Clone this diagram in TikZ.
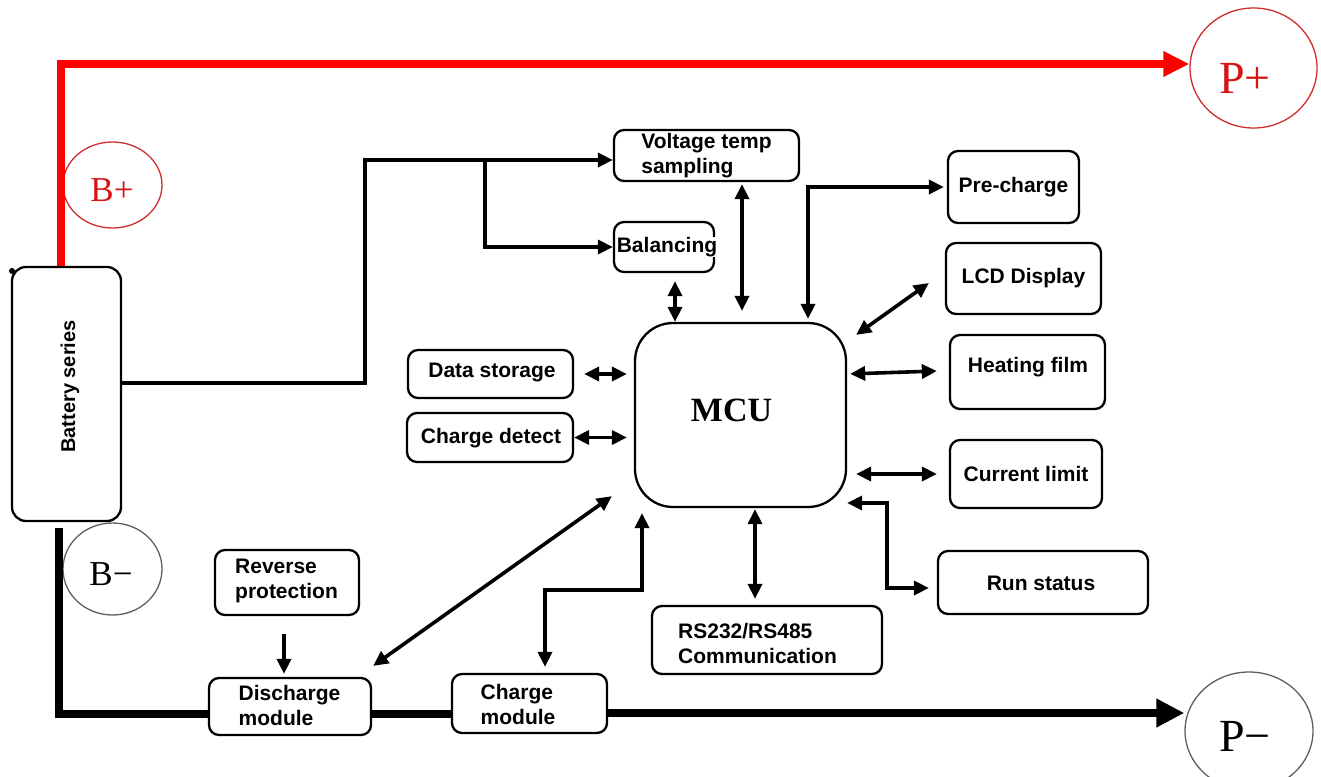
\documentclass[tikz,border=0pt]{standalone}
\usepackage{fontspec}
\setmainfont{Liberation Sans}
\newfontfamily\serifff{Liberation Serif}
\usetikzlibrary{arrows.meta,shapes.geometric,calc}
\definecolor{pred}{RGB}{255,0,0}
\definecolor{ered}{RGB}{205,45,45}
\definecolor{tred}{RGB}{215,20,20}
\definecolor{egray}{RGB}{95,95,95}
\begin{document}
\begin{tikzpicture}[x=1pt,y=-1pt,
  box/.style={draw, line width=2.3pt, rounded corners=10pt, inner sep=0pt, font=\bfseries\fontsize{21}{25}\selectfont, align=left},
  lbl/.style={inner sep=1pt, font=\bfseries\fontsize{21}{25}\selectfont, align=left},
  term/.style={ellipse, draw, line width=1.3pt, inner sep=0pt},
  conn/.style={line width=3.6pt, line join=miter},
  >={Triangle[length=15pt,width=14pt]},
  two/.style={conn, <->},
  one/.style={conn, ->},
  bus/.style={line width=8.5pt, line join=miter},
]
\useasboundingbox (0,0) rectangle (1321,776);

% terminals
\node[term, draw=ered, minimum width=99, minimum height=86] (bplus) at (112.5,185) {};
\node[text=tred, font=\serifff\fontsize{35}{35}\selectfont] (bplustxt) at (112,190) {B+};
\node[term, draw=ered, minimum width=127, minimum height=120] (pplus) at (1253.5,68) {};
\node[text=tred, font=\serifff\fontsize{46}{46}\selectfont] (pplustxt) at (1245,78) {P+};
\node[term, draw=egray, minimum width=99, minimum height=92] (bminus) at (112.5,569) {};
\node[font=\serifff\fontsize{35}{35}\selectfont] (bminustxt) at (111,574) {B−};
\node[term, draw=egray, minimum width=128, minimum height=118] (pminus) at (1249,731) {};
\node[font=\serifff\fontsize{46}{46}\selectfont] (pminustxt) at (1245,736) {P−};

% battery
\node[box, rounded corners=14pt, minimum width=109, minimum height=254] (batt) at (66.5,394) {};
\node[lbl, rotate=90, font=\bfseries\fontsize{20}{24}\selectfont] (battlbl) at (70,386.5) {Battery series};
\fill (12,271) circle (3pt);

% boxes
\node[box, minimum width=185, minimum height=51] (vts) at (706.5,155.5) {Voltage temp\\sampling};
\node[box, minimum width=100, minimum height=50] (bal) at (664,247) {};
\node[lbl, fill=white, inner sep=0pt] (baltxt) at (667,247) {Balancing};
\node[box, minimum width=131, minimum height=72] (pre) at (1013.5,187) {Pre-charge};
\node[box, minimum width=155, minimum height=71] (lcd) at (1023.5,278.5) {LCD Display};
\node[box, minimum width=155, minimum height=74] (heat) at (1027.5,372) {};
\node[lbl] (heattxt) at (1028,367) {Heating film};
\node[box, minimum width=152, minimum height=68] (cl) at (1026,474) {Current limit};
\node[box, minimum width=210, minimum height=63] (run) at (1043,582.5) {};
\node[lbl] (runtxt) at (1041,583) {Run status};
\node[box, minimum width=165, minimum height=48] (ds) at (490.5,374) {};
\node[lbl] (dstxt) at (492,372) {Data storage};
\node[box, minimum width=166, minimum height=49] (cd) at (490,437.5) {};
\node[lbl] (cdtxt) at (491,438) {Charge detect};
\node[box, rounded corners=38pt, minimum width=211, minimum height=184] (mcu) at (740.5,415) {};
\node[font=\serifff\bfseries\fontsize{34}{34}\selectfont] (mcutxt) at (731.5,410) {MCU};
\node[box, minimum width=230, minimum height=68] (rs) at (767,640) {};
\node[lbl] (rstxt) at (757.5,643) {RS232/RS485\\Communication};
\node[box, minimum width=155, minimum height=59] (chg) at (529.5,703.5) {};
\node[lbl] (chgtxt) at (518,704) {Charge\\module};
\node[box, minimum width=162, minimum height=57] (dis) at (290,706.5) {};
\node[lbl] (distxt) at (289.5,705) {Discharge\\module};
\node[box, minimum width=144, minimum height=65] (rev) at (287,582.5) {};
\node[lbl] (revtxt) at (286.5,581) {Reverse\\protection};

% power lines
\draw[bus, pred, -{Triangle[length=26pt,width=24pt]}] (batt.north -| 61,0) -- (61,64) -- (pplus.west |- 0,64);
\draw[bus, shorten <=6pt] (batt.south -| 59,0) -- (59,714) -- (dis.west |- 0,714);
\draw[bus] (dis.east |- 0,714) -- (chg.west |- 0,714);
\draw[bus, -{Triangle[length=28pt,width=27pt]}] (chg.east |- 0,713) -- (pminus.west |- 0,713);

% sampling lines
\coordinate (jn) at (485,160);
\draw[one] (batt.east |- 0,383) -| (365,160) -- (vts.west |- 0,160);
\draw[one] (jn) |- (bal.west);

% MCU connections
\draw[two, shorten <=8pt] (bal.south -| 675,0) -- (mcu.north -| 675,0);
\draw[two, shorten <=2pt, shorten >=11pt] (vts.south -| 742,0) -- (mcu.north -| 742,0);
\draw[two, shorten <=3pt, shorten >=3pt] (mcu.north -| 808,0) |- (pre.west);
\draw[two] ($(mcu.north east)+(9,13)$) -- ($(lcd.west)+(-16,4.5)$);
\draw[two, shorten <=3pt] (mcu.east |- 0,374) -- ($(heat.west)+(-12,-1)$);
\draw[two, shorten <=10pt, shorten >=7pt] (ds.east) -- (mcu.west |- ds.east);
\draw[two, shorten >=7pt] (cd.east) -- (mcu.west |- cd.east);
\draw[two, shorten <=9pt, shorten >=12pt] (mcu.east |- cl.west) -- (cl.west);
\draw[two, shorten >=8pt] (mcu.east |- 0,503) -- (887,503) |- (run.west |- 0,588);
\draw[two, shorten <=6pt, shorten >=1pt] (rs.north -| 755,0) -- (mcu.south -| 755,0);
\draw[two, shorten <=6pt, shorten >=5pt] (chg.north -| 545,0) |- (642,590) -- (mcu.south -| 642,0);
\draw[two] ($(dis.north east)+(1,-11)$) -- ($(mcu.south west)+(-22,-12)$);
\draw[one, shorten <=18pt, shorten >=3pt] (rev.south -| 284,0) -- (dis.north -| 284,0);
\end{tikzpicture}
\end{document}
